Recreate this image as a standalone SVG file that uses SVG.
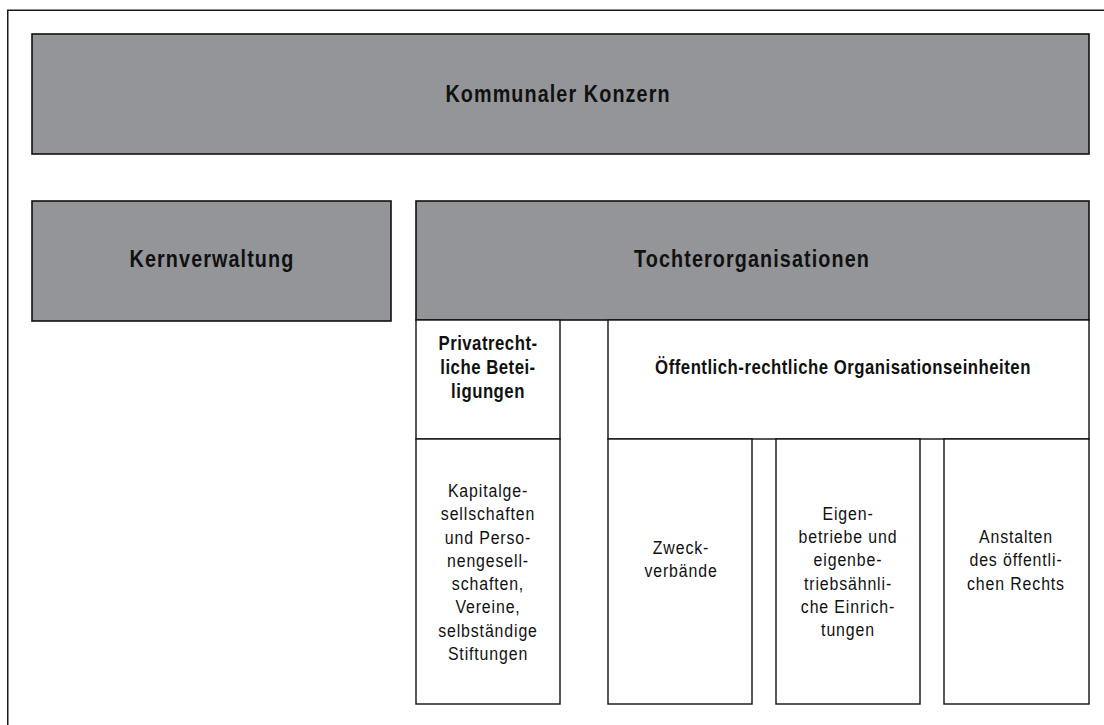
<svg xmlns="http://www.w3.org/2000/svg" width="1104" height="725" viewBox="0 0 1104 725">
<style>
.frame{fill:none;stroke:#1a1a1a;stroke-width:1.5}
.g{fill:#939598;stroke:#111;stroke-width:1.6}
.w{fill:#fff;stroke:#111;stroke-width:1.4}
text{font-family:"Liberation Sans",Arial,sans-serif;fill:#111;text-anchor:middle}
.tb{font-weight:bold;font-size:23px;letter-spacing:1.28px}
.sb{font-weight:bold;font-size:19.5px;letter-spacing:0.58px}
.r{font-size:18.5px;letter-spacing:1px}
</style>
<rect class="frame" x="7.75" y="10.25" width="1110" height="730"/>
<g id="konzern">
<rect class="g" x="32" y="34" width="1057" height="120"/>
<text class="tb" transform="translate(558,101.5) scale(0.86,1)">Kommunaler Konzern</text>
</g>
<g id="kernverwaltung">
<rect class="g" x="32" y="201" width="359" height="120"/>
<text class="tb" transform="translate(212,267) scale(0.86,1)">Kernverwaltung</text>
</g>
<g id="tochter">
<rect class="g" x="416" y="201" width="673" height="119"/>
<text class="tb" transform="translate(752,267) scale(0.86,1)">Tochterorganisationen</text>
</g>
<g id="privatrecht">
<rect class="w" x="416" y="320" width="144" height="119"/>
<text class="sb" transform="translate(488,350) scale(0.86,1)">Privatrecht-</text>
<text class="sb" transform="translate(488,374) scale(0.86,1)">liche Betei-</text>
<text class="sb" transform="translate(488,398) scale(0.86,1)">ligungen</text>
</g>
<g id="oeffentlich">
<rect class="w" x="608" y="320" width="481" height="119"/>
<text class="sb" transform="translate(843,374) scale(0.86,1)">Öffentlich-rechtliche Organisationseinheiten</text>
</g>
<g id="kapital">
<rect class="w" x="416" y="439" width="144" height="265"/>
<text class="r" transform="translate(488,497) scale(0.86,1)">Kapitalge-</text>
<text class="r" transform="translate(488,520) scale(0.86,1)">sellschaften</text>
<text class="r" transform="translate(488,543.5) scale(0.86,1)">und Perso-</text>
<text class="r" transform="translate(488,567) scale(0.86,1)">nengesell-</text>
<text class="r" transform="translate(488,590) scale(0.86,1)">schaften,</text>
<text class="r" transform="translate(488,613) scale(0.86,1)">Vereine,</text>
<text class="r" transform="translate(488,637) scale(0.86,1)">selbständige</text>
<text class="r" transform="translate(488,660) scale(0.86,1)">Stiftungen</text>
</g>
<g id="zweck">
<rect class="w" x="608" y="439" width="144" height="265"/>
<text class="r" transform="translate(681,554) scale(0.86,1)">Zweck-</text>
<text class="r" transform="translate(681,577) scale(0.86,1)">verbände</text>
</g>
<g id="eigen">
<rect class="w" x="776" y="439" width="144" height="265"/>
<text class="r" transform="translate(848,520) scale(0.86,1)">Eigen-</text>
<text class="r" transform="translate(848,543) scale(0.86,1)">betriebe und</text>
<text class="r" transform="translate(848,566) scale(0.86,1)">eigenbe-</text>
<text class="r" transform="translate(848,590) scale(0.86,1)">triebsähnli-</text>
<text class="r" transform="translate(848,613) scale(0.86,1)">che Einrich-</text>
<text class="r" transform="translate(848,636) scale(0.86,1)">tungen</text>
</g>
<g id="anstalten">
<rect class="w" x="944" y="439" width="145" height="265"/>
<text class="r" transform="translate(1016,543) scale(0.86,1)">Anstalten</text>
<text class="r" transform="translate(1016,566) scale(0.86,1)">des öffentli-</text>
<text class="r" transform="translate(1016,590) scale(0.86,1)">chen Rechts</text>
</g>
<g id="connectors"></g>
</svg>
